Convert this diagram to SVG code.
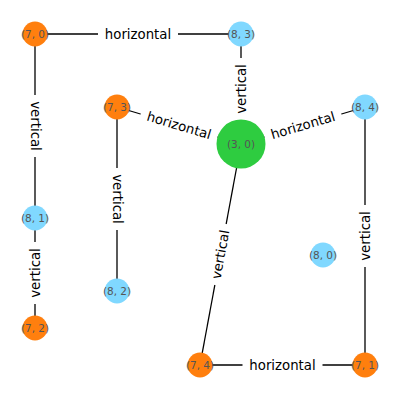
<svg xmlns="http://www.w3.org/2000/svg" width="400" height="400" viewBox="0 0 400 400">
<style>
.e{stroke:#000;stroke-width:1.3;fill:none}
.lb rect{fill:#fff}
.lb text{font-family:"DejaVu Sans",sans-serif;font-size:13.3px;fill:#000;text-anchor:middle;dominant-baseline:central}
.o{fill:#ff7f0e}
.b{fill:#80d8ff}
.g{fill:#2ecc40}
.n text{font-family:"DejaVu Sans",sans-serif;font-size:10.5px;fill:#555;text-anchor:middle;dominant-baseline:central}
</style>
<rect width="400" height="400" fill="#fff"/>
<g id="connectors">
<line class="e" x1="35" y1="34" x2="241" y2="34"/>
<line class="e" x1="35" y1="34" x2="35" y2="218"/>
<line class="e" x1="35" y1="218" x2="35" y2="328"/>
<line class="e" x1="117" y1="107" x2="241" y2="144"/>
<line class="e" x1="117" y1="107" x2="117" y2="291"/>
<line class="e" x1="241" y1="34" x2="241" y2="144"/>
<line class="e" x1="241" y1="144" x2="365" y2="107"/>
<line class="e" x1="241" y1="144" x2="200" y2="365"/>
<line class="e" x1="365" y1="107" x2="365" y2="365"/>
<line class="e" x1="200" y1="365" x2="365" y2="365"/>
<g class="lb" transform="translate(138,34)"><rect x="-40" y="-11" width="80" height="22"/><text>horizontal</text></g>
<g class="lb" transform="translate(35,126) rotate(90)"><rect x="-31" y="-11" width="62" height="22"/><text>vertical</text></g>
<g class="lb" transform="translate(35,273) rotate(-90)"><rect x="-31" y="-11" width="62" height="22"/><text>vertical</text></g>
<g class="lb" transform="translate(117,199) rotate(90)"><rect x="-31" y="-11" width="62" height="22"/><text>vertical</text></g>
<g class="lb" transform="translate(241,89) rotate(-90)"><rect x="-31" y="-11" width="62" height="22"/><text>vertical</text></g>
<g class="lb" transform="translate(365,236) rotate(-90)"><rect x="-31" y="-11" width="62" height="22"/><text>vertical</text></g>
<g class="lb" transform="translate(220.5,254.5) rotate(-79.5)"><rect x="-31" y="-11" width="62" height="22"/><text>vertical</text></g>
<g class="lb" transform="translate(179,125.5) rotate(16.6)"><rect x="-40" y="-11" width="80" height="22"/><text>horizontal</text></g>
<g class="lb" transform="translate(303,125.5) rotate(-16.6)"><rect x="-40" y="-11" width="80" height="22"/><text>horizontal</text></g>
<g class="lb" transform="translate(282.5,365)"><rect x="-40" y="-11" width="80" height="22"/><text>horizontal</text></g>
</g>
<g id="n70" class="n"><circle class="o" cx="35" cy="34" r="12.5"/><text x="35" y="34">(7, 0)</text></g>
<g id="n83" class="n"><circle class="b" cx="241" cy="34" r="12.5"/><text x="241" y="34">(8, 3)</text></g>
<g id="n73" class="n"><circle class="o" cx="117" cy="107" r="12.5"/><text x="117" y="107">(7, 3)</text></g>
<g id="n30" class="n"><circle class="g" cx="241" cy="144" r="24.5"/><text x="241" y="144">(3, 0)</text></g>
<g id="n84" class="n"><circle class="b" cx="365" cy="107" r="12.5"/><text x="365" y="107">(8, 4)</text></g>
<g id="n81" class="n"><circle class="b" cx="35" cy="218" r="12.5"/><text x="35" y="218">(8, 1)</text></g>
<g id="n82" class="n"><circle class="b" cx="117" cy="291" r="12.5"/><text x="117" y="291">(8, 2)</text></g>
<g id="n80" class="n"><circle class="b" cx="323" cy="255" r="12.5"/><text x="323" y="255">(8, 0)</text></g>
<g id="n72" class="n"><circle class="o" cx="35" cy="328" r="12.5"/><text x="35" y="328">(7, 2)</text></g>
<g id="n74" class="n"><circle class="o" cx="200" cy="365" r="12.5"/><text x="200" y="365">(7, 4)</text></g>
<g id="n71" class="n"><circle class="o" cx="365" cy="365" r="12.5"/><text x="365" y="365">(7, 1)</text></g>
</svg>
